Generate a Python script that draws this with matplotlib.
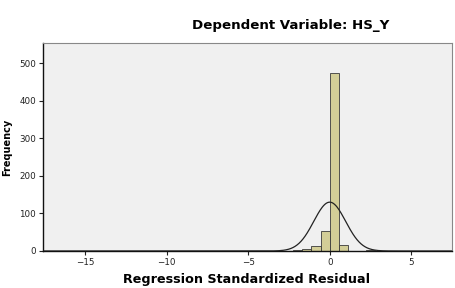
import matplotlib
matplotlib.use('Agg')
import matplotlib.pyplot as plt
import numpy as np

# ---- histogram data ----
bin_width = 0.56
bin_left = [-12.32, -6.16, -5.04, -2.80, -2.24, -1.68, -1.12, -0.56, 0.0, 0.56, 2.24, 2.80, 3.36]
counts = [1, 1, 1, 1, 2, 4, 13, 52, 475, 17, 2, 1, 1]

# normal curve parameters
resid_mean = 0.0
resid_sd = 0.98

plt.rcParams['font.family'] = ['DejaVu Sans']

fig = plt.figure(figsize=(4.56, 2.88), dpi=100)
ax = fig.add_axes([0.0943, 0.1285, 0.8967, 0.7232])
ax.set_facecolor('#F0F0F0')

ax.bar(bin_left, counts, width=bin_width, align='edge',
       color='#D3CE97', edgecolor='#3a3a3a', linewidth=0.6, zorder=2)

n_total = sum(counts)
xs = np.linspace(-17.6, 7.5, 600)
ys = n_total * bin_width * np.exp(-0.5 * ((xs - resid_mean) / resid_sd) ** 2) / (resid_sd * np.sqrt(2 * np.pi))
ax.plot(xs, ys, color='#222222', linewidth=0.9, zorder=3)

ax.set_xlim(-17.6, 7.5)
ax.set_ylim(0, 555)
ax.set_xticks([-15, -10, -5, 0, 5])
ax.set_yticks([0, 100, 200, 300, 400, 500])
ax.tick_params(labelsize=6.3, length=3, width=0.8, pad=2, colors='#222222')

for s in ['left', 'bottom']:
    ax.spines[s].set_color('#111111')
    ax.spines[s].set_linewidth(1.0)
for s in ['top', 'right']:
    ax.spines[s].set_color('#888888')
    ax.spines[s].set_linewidth(0.8)

fig.text(291 / 456, 1 - 26 / 288, 'Dependent Variable: HS_Y', ha='center', va='center',
         fontsize=9.6, fontweight='bold')
fig.text(247 / 456, 1 - 279 / 288, 'Regression Standardized Residual', ha='center', va='center',
         fontsize=9.2, fontweight='bold')
fig.text(7 / 456, 1 - 147 / 288, 'Frequency', ha='center', va='center', rotation=90,
         fontsize=7, fontweight='bold')

plt.savefig('out.png', dpi=100)
plt.close()
